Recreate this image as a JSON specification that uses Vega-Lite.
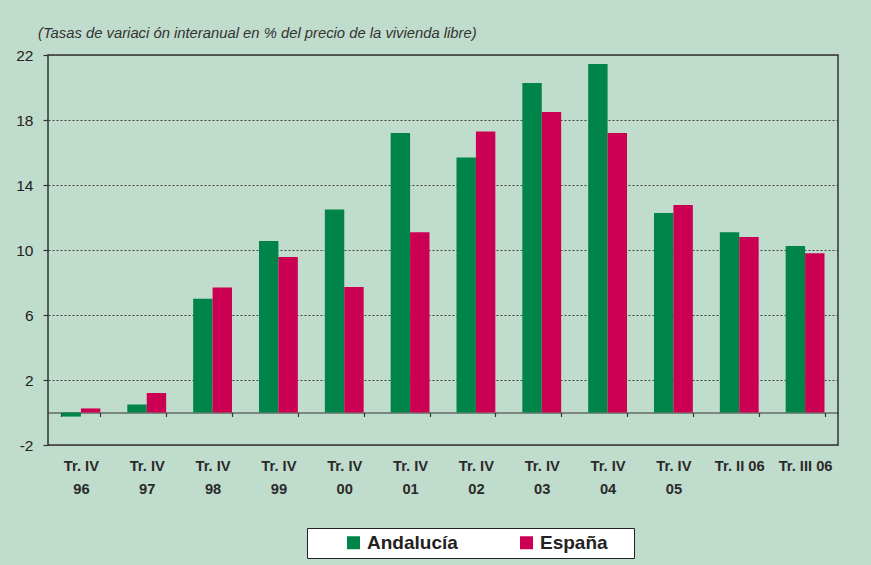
{
  "$schema": "https://vega.github.io/schema/vega-lite/v6.json",
  "autosize": "none",
  "width": 790,
  "height": 390,
  "padding": {"left": 48, "top": 55, "right": 33, "bottom": 120},
  "background": "#c0dccc",
  "title": {
    "text": "(Tasas de variaci ón interanual en % del precio de la vivienda libre)",
    "anchor": "start",
    "frame": "group",
    "dx": -10,
    "offset": 7,
    "font": "Liberation Sans",
    "fontStyle": "italic",
    "fontWeight": "normal",
    "fontSize": 14.8,
    "color": "#333333"
  },
  "config": {
    "view": {"stroke": "#333333", "strokeWidth": 1.5, "fill": "#c0dccc"},
    "font": "Liberation Sans",
    "legend": {"strokeWidth": 1}
  },
  "data": {
    "values": [
      {"periodo": "Tr. IV|96", "serie": "Andalucía", "valor": -0.25},
      {"periodo": "Tr. IV|96", "serie": "España", "valor": 0.25},
      {"periodo": "Tr. IV|97", "serie": "Andalucía", "valor": 0.5},
      {"periodo": "Tr. IV|97", "serie": "España", "valor": 1.2},
      {"periodo": "Tr. IV|98", "serie": "Andalucía", "valor": 7.0},
      {"periodo": "Tr. IV|98", "serie": "España", "valor": 7.7},
      {"periodo": "Tr. IV|99", "serie": "Andalucía", "valor": 10.55},
      {"periodo": "Tr. IV|99", "serie": "España", "valor": 9.57},
      {"periodo": "Tr. IV|00", "serie": "Andalucía", "valor": 12.5},
      {"periodo": "Tr. IV|00", "serie": "España", "valor": 7.72},
      {"periodo": "Tr. IV|01", "serie": "Andalucía", "valor": 17.2},
      {"periodo": "Tr. IV|01", "serie": "España", "valor": 11.1},
      {"periodo": "Tr. IV|02", "serie": "Andalucía", "valor": 15.7},
      {"periodo": "Tr. IV|02", "serie": "España", "valor": 17.3},
      {"periodo": "Tr. IV|03", "serie": "Andalucía", "valor": 20.28},
      {"periodo": "Tr. IV|03", "serie": "España", "valor": 18.5},
      {"periodo": "Tr. IV|04", "serie": "Andalucía", "valor": 21.45},
      {"periodo": "Tr. IV|04", "serie": "España", "valor": 17.2},
      {"periodo": "Tr. IV|05", "serie": "Andalucía", "valor": 12.28},
      {"periodo": "Tr. IV|05", "serie": "España", "valor": 12.77},
      {"periodo": "Tr. II 06", "serie": "Andalucía", "valor": 11.1},
      {"periodo": "Tr. II 06", "serie": "España", "valor": 10.8},
      {"periodo": "Tr. III 06", "serie": "Andalucía", "valor": 10.25},
      {"periodo": "Tr. III 06", "serie": "España", "valor": 9.8}
    ]
  },
  "mark": {"type": "bar", "clip": true},
  "encoding": {
    "x": {
      "field": "periodo",
      "type": "nominal",
      "sort": null,
      "title": null,
      "scale": {"paddingInner": 0.41, "paddingOuter": 0.205},
      "axis": {
        "orient": "bottom",
        "offset": -32.5,
        "tickBand": "extent",
        "domain": true,
        "domainColor": "#333333",
        "domainWidth": 1.2,
        "ticks": true,
        "tickSize": 4,
        "tickColor": "#333333",
        "tickWidth": 1.2,
        "labelAngle": 0,
        "labelExpr": "split(datum.label, '|')",
        "labelFont": "Liberation Sans",
        "labelFontWeight": "bold",
        "labelFontSize": 14.7,
        "labelColor": "#2a2a2a",
        "labelPadding": 42,
        "labelLineHeight": 23,
        "labelBaseline": "top"
      }
    },
    "xOffset": {
      "field": "serie",
      "type": "nominal",
      "scale": {"paddingInner": 0, "paddingOuter": 0}
    },
    "y": {
      "field": "valor",
      "type": "quantitative",
      "title": null,
      "scale": {"domain": [-2, 22], "nice": false, "zero": false},
      "axis": {
        "values": [-2, 2, 6, 10, 14, 18, 22],
        "labelExpr": "'' + datum.value",
        "domain": false,
        "ticks": true,
        "tickSize": 5,
        "tickColor": "#333333",
        "tickWidth": 1.2,
        "grid": true,
        "gridColor": "#444444",
        "gridDash": [2, 2],
        "gridWidth": 1,
        "labelFont": "Liberation Sans",
        "labelFontSize": 15.5,
        "labelColor": "#222222",
        "labelPadding": 10
      }
    },
    "color": {
      "field": "serie",
      "type": "nominal",
      "scale": {"domain": ["Andalucía", "España"], "range": ["#00844a", "#cc0052"]},
      "legend": {
        "title": "\u00a0",
        "titleOrient": "right",
        "titlePadding": 21,
        "titleFontSize": 4,
        "orient": "none",
        "legendX": 259,
        "legendY": 473,
        "direction": "horizontal",
        "fillColor": "#ffffff",
        "strokeColor": "#222222",
        "padding": 5,
        "symbolType": "square",
        "symbolSize": 169,
        "symbolStrokeWidth": 0,
        "symbolOffset": 32,
        "labelFont": "Liberation Sans",
        "labelFontWeight": "bold",
        "labelFontSize": 19,
        "labelColor": "#222222",
        "labelOffset": 4,
        "columnPadding": 27
      }
    }
  }
}
